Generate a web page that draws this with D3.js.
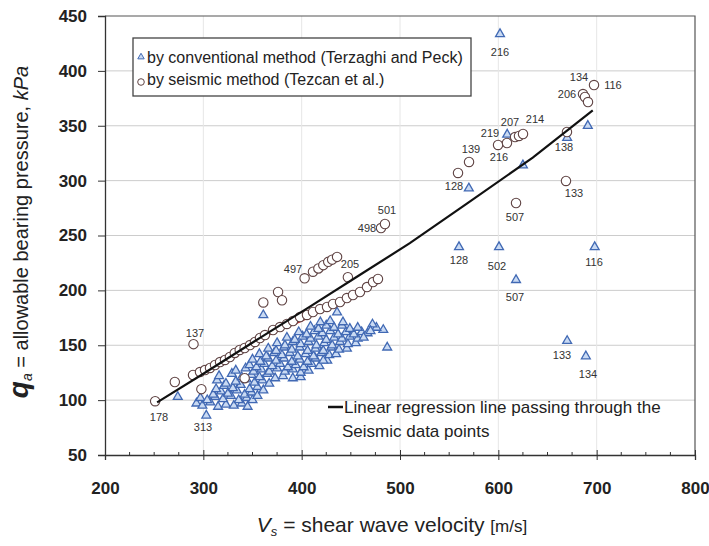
<!DOCTYPE html>
<html><head><meta charset="utf-8">
<script src="https://cdn.jsdelivr.net/npm/d3@7"></script>
<style>body{margin:0;background:#fff}</style>
</head><body>
<svg id="c" width="709" height="546"></svg>
<script>
const xTicks = [200,300,400,500,600,700,800];
const yTicks = [50,100,150,200,250,300,350,400,450];
const xMinorTicks = d3.range(225,800,25);

// conventional method (Terzaghi and Peck): [Vs, qa]
const conventional = [
 [601.7,433.6],[570,293],[625,314],[691,350],[609,342],[670,339],
 [560,239.5],[600.7,239.5],[698,239.5],[618,209.5],[670,154],[689,140],
 [303,86],[483,164],[487,148],[274,103],[361,177.5],[436,180],[426,136],
 [293,97],[299,95],[307,98],[315,94],[323,96],[331,95],[339,97],[345,94],
 [297,102],[304,100],[312,103],[320,101],[328,104],[336,100],[344,102],[350,100],
 [310,105],[318,108],[325,106],[334,109],[342,105],[349,107],[355,104],
 [313,110],[321,113],[330,111],[338,114],[347,110],[355,112],[361,109],
 [314,118],[323,115],[333,117],[344,119],[352,116],[360,118],[367,115],
 [316,122],[329,124],[339,121],[349,123],[357,121],[365,124],[373,120],[381,122],[391,120],[399,121],
 [333,127],[343,129],[351,126],[359,128],[367,126],[375,129],[383,126],[391,128],[399,125],[407,127],
 [347,132],[354,130],[362,133],[370,131],[378,133],[386,130],[394,132],[402,130],[410,133],[418,131],
 [350,137],[358,135],[366,138],[374,136],[382,138],[390,135],[398,137],[406,135],[414,138],[422,136],
 [357,142],[364,140],[372,143],[380,141],[388,143],[396,140],[404,142],[412,140],[420,143],[428,141],[435,142],
 [366,147],[374,145],[382,148],[390,146],[398,148],[406,145],[414,147],[422,145],[430,148],[438,146],[446,147],
 [375,152],[383,150],[391,153],[399,151],[407,153],[415,150],[423,152],[431,150],[439,153],[447,151],[455,152],
 [385,157],[393,155],[401,158],[409,156],[417,158],[425,155],[433,157],[441,156],[449,158],[457,156],
 [397,162],[405,160],[413,163],[421,161],[429,163],[437,160],[445,162],[453,160],[461,162],[467,161],
 [409,167],[417,165],[425,168],[433,166],[441,168],[449,165],[457,166],[476,166],
 [419,171],[429,172],[472,169],[463,157],[470,163],[442,171]
];

// seismic method (Tezcan et al.): [Vs, qa]
const seismic = [
 [697.3,387.1],[686.1,378.9],[688.1,376.2],[691.2,371.6],
 [617,339.7],[621,340.7],[625.1,342.5],[599.7,332.5],[608.8,334.3],
 [570.2,317],[559,307],[669.8,344.3],[668.8,299.7],[618,279.6],
 [480.7,256.8],[484.7,260.5],
 [403,211],[411.5,217],[417,220],[422,223],[427,226],[431,228],[436,230.5],
 [447,212],[376,198.5],[380,191],[361,189],
 [290,151],[251,99],[271,116.5],[298,110],[342,120],
 [289.5,122.9],[296.6,125.6],[301.7,127.4],[306.8,129.3],[311.9,132],[317,134.7],
 [322,136.6],[327,139.3],[332,143],[337,145.7],[342,147.5],[347.5,150.2],
 [352.5,153],[357.6,156.6],[362.7,159.3],[370.9,163.9],[378,166.6],[385,169.4],
 [391.2,172.1],[398.3,175.7],[405.4,177.6],[411.5,180.3],[418.7,183],[425.8,184.9],
 [431.9,187.6],[439,189.4],[446,193],[452.2,195.8],[459.3,198.5],[466.4,203],
 [472.6,207.6],[477.6,210.4]
];

const regressionLine = [[253,98],[300,124],[358,157],[408,185],[459,214],[510,243],[568,279],[635,321],[696,364]];
const redLine = [[362,158],[400,172],[444,192]];

// point labels: [text, Vs, qa]
const pointLabels = [
 ["216",601.7,417.2],["134",682.0,394.4],["116",716.6,387.1],["206",669.8,378.9],
 ["207",611.9,353.4],["214",637.3,356.2],["219",591.5,343.4],["139",572.2,328.8],
 ["216",600.7,321.5],["138",666.8,330.6],["128",554.9,295.1],["133",677.0,288.7],
 ["507",617.0,266.9],["501",486.8,273.2],["498",466.4,256.8],["497",391.2,219.5],
 ["205",449.2,224.0],["137",291.5,161.2],["178",254.9,84.6],["313",299.7,75.5],
 ["128",560.0,227.7],["502",598.6,222.2],["116",697.3,225.9],["507",617.0,194.0],
 ["133",664.7,141.1],["134",691.2,123.8]
];

const legendItems = ["by conventional method (Terzaghi and Peck)", "by seismic method (Tezcan et al.)"];
const regLegend = ["Linear regression line passing through the", "Seismic data points"];

const svg = d3.select("#c");
const x = d3.scaleLinear().domain([200,800]).range([105,695]);
const y = d3.scaleLinear().domain([50,450]).range([455,16]);
const FONT = "'Liberation Sans', Arial, sans-serif";

// grid
svg.append("g").selectAll("line").data(yTicks.filter(d=>d>50&&d<450)).join("line")
  .attr("x1",x(200)).attr("x2",x(800)).attr("y1",d=>y(d)).attr("y2",d=>y(d))
  .attr("stroke","#cccccc").attr("stroke-width",1);
svg.append("g").selectAll("line").data(xTicks.filter(d=>d>200&&d<800)).join("line")
  .attr("y1",y(50)).attr("y2",y(450)).attr("x1",d=>x(d)).attr("x2",d=>x(d))
  .attr("stroke","#e6e6e6").attr("stroke-width",1);

// frame top/right
svg.append("path").attr("d",`M${x(200)},${y(450)}H${x(800)}V${y(50)}`)
  .attr("fill","none").attr("stroke","#555").attr("stroke-width",1.2);

// axes
const yAxis = svg.append("g").attr("transform",`translate(${x(200)},0)`)
  .call(d3.axisLeft(y).tickValues(yTicks).tickSize(7).tickPadding(11).tickFormat(d3.format("d")));
const xAxis = svg.append("g").attr("transform",`translate(0,${y(50)})`)
  .call(d3.axisBottom(x).tickValues(xTicks).tickSize(5).tickPadding(22).tickFormat(d3.format("d")));
[yAxis,xAxis].forEach(a=>{
  a.select(".domain").attr("stroke","#333").attr("stroke-width",1.3);
  a.selectAll(".tick line").attr("stroke","#333");
  a.selectAll("text").attr("font-family",FONT).attr("font-size",17).attr("font-weight","bold").attr("fill","#222");
});
xAxis.selectAll(".tick line").attr("y1",-5);
svg.append("g").selectAll("line").data(xMinorTicks.filter(d=>d%100!==0)).join("line")
  .attr("x1",d=>x(d)).attr("x2",d=>x(d)).attr("y1",y(50)).attr("y2",y(50)-3)
  .attr("stroke","#333");

// red line
svg.append("path").datum(redLine)
  .attr("d",d3.line().x(d=>x(d[0])).y(d=>y(d[1])))
  .attr("fill","none").attr("stroke","#c03030").attr("stroke-width",1.6);

// conventional triangles
const tri = d3.symbol().type(d3.symbolTriangle).size(34);
svg.append("g").selectAll("path").data(conventional).join("path")
  .attr("d",tri).attr("transform",d=>`translate(${x(d[0])},${y(d[1])})`)
  .attr("fill","#c9daf3").attr("stroke","#4169b4").attr("stroke-width",1.3);

// seismic circles
svg.append("g").selectAll("circle").data(seismic).join("circle")
  .attr("cx",d=>x(d[0])).attr("cy",d=>y(d[1])).attr("r",4.7)
  .attr("fill","#fff").attr("stroke","#604444").attr("stroke-width",1.1);

// regression line
svg.append("path").datum(regressionLine)
  .attr("d",d3.line().x(d=>x(d[0])).y(d=>y(d[1])))
  .attr("fill","none").attr("stroke","#111").attr("stroke-width",2.2);

// point labels
svg.append("g").selectAll("text").data(pointLabels).join("text")
  .attr("x",d=>x(d[1])).attr("y",d=>y(d[2])).attr("dy","0.35em")
  .attr("text-anchor","middle").attr("font-family",FONT).attr("font-size",11)
  .attr("fill","#333").text(d=>d[0]);

// legend box
const lg = svg.append("g");
lg.append("rect").attr("x",133).attr("y",38).attr("width",338).attr("height",58)
  .attr("fill","#fff").attr("stroke","#444").attr("stroke-width",1.3);
lg.append("path").attr("d",d3.symbol().type(d3.symbolTriangle).size(18))
  .attr("transform","translate(141,57)").attr("fill","#c9daf3").attr("stroke","#4169b4").attr("stroke-width",1);
lg.append("circle").attr("cx",141).attr("cy",82).attr("r",3.3)
  .attr("fill","#fff").attr("stroke","#604444").attr("stroke-width",1);
lg.selectAll("text").data(legendItems).join("text")
  .attr("x",147).attr("y",(d,i)=>63+i*22).attr("font-family",FONT).attr("font-size",16)
  .attr("fill","#222").text(d=>d);

// regression legend
svg.append("line").attr("x1",328).attr("x2",343).attr("y1",407).attr("y2",407)
  .attr("stroke","#111").attr("stroke-width",2.5);
svg.append("g").selectAll("text").data(regLegend).join("text")
  .attr("x",(d,i)=>i===0?344:342).attr("y",(d,i)=>413+i*24).attr("font-family",FONT).attr("font-size",17)
  .attr("fill","#222").text(d=>d);

// x title
const xt = svg.append("text").attr("x",392).attr("y",532).attr("text-anchor","middle")
  .attr("font-family",FONT).attr("font-size",21).attr("fill","#222");
xt.append("tspan").attr("font-style","italic").text("V");
xt.append("tspan").attr("font-style","italic").attr("font-size",13).attr("dy",4).text("s");
xt.append("tspan").attr("dy",-4).text(" = shear wave velocity ");
xt.append("tspan").attr("font-size",17).text("[m/s]");

// y title
const yt = svg.append("text").attr("transform","translate(28,232) rotate(-90)").attr("text-anchor","middle")
  .attr("font-family",FONT).attr("font-size",20).attr("fill","#222");
yt.append("tspan").attr("font-style","italic").attr("font-weight","bold").attr("font-size",28).text("q");
yt.append("tspan").attr("font-style","italic").attr("font-size",14).attr("dy",4).text("a");
yt.append("tspan").attr("dy",-4).text(" = allowable bearing pressure, ");
yt.append("tspan").attr("font-style","italic").text("kPa");
</script>
</body></html>
